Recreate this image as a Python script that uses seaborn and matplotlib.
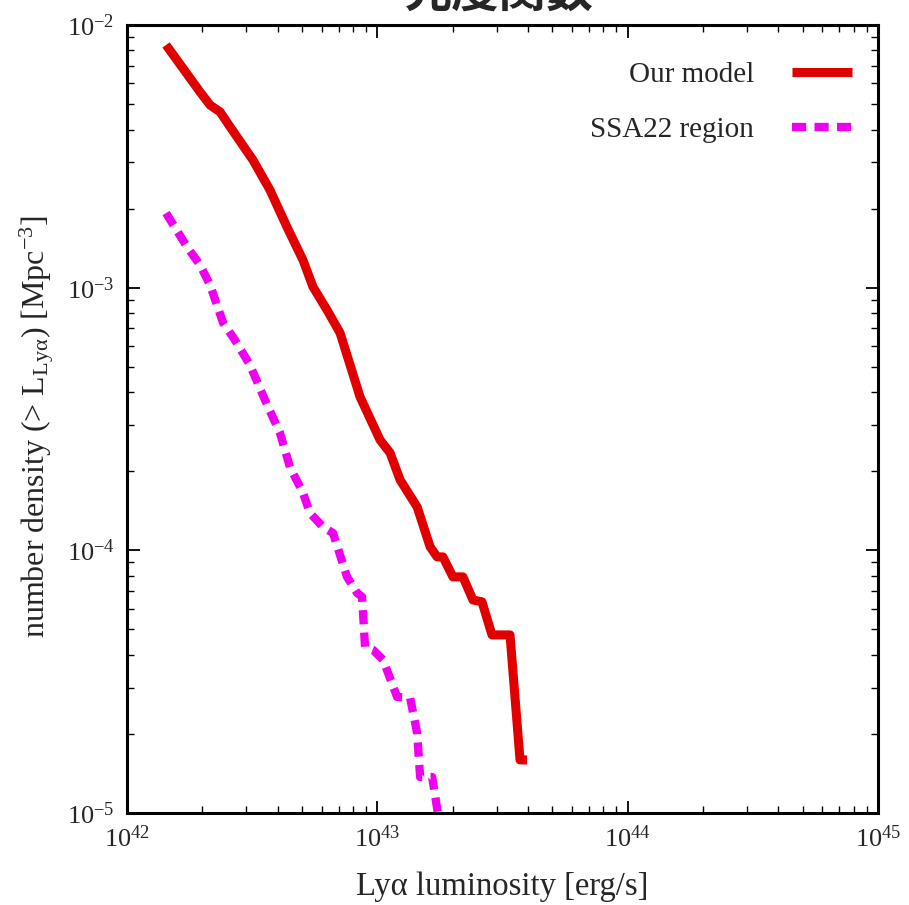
import numpy as np
import pandas as pd
import matplotlib
matplotlib.use("Agg")
import matplotlib.pyplot as plt
import seaborn as sns
from matplotlib.ticker import LogLocator, LogFormatterMathtext, NullFormatter

# Cumulative Lya luminosity function (log10 L [erg/s], log10 n(>L) [Mpc^-3])
model_logL = [42.156, 42.292, 42.332, 42.372, 42.412, 42.503, 42.571, 42.639,
              42.703, 42.743, 42.799, 42.851, 42.931, 43.011, 43.051, 43.091,
              43.159, 43.211, 43.239, 43.262, 43.302, 43.342, 43.382, 43.418,
              43.458, 43.530, 43.570, 43.598]
model_logn = [-2.076, -2.255, -2.305, -2.331, -2.388, -2.514, -2.628, -2.769,
              -2.895, -2.997, -3.085, -3.172, -3.416, -3.580, -3.629, -3.732,
              -3.835, -3.987, -4.025, -4.025, -4.101, -4.101, -4.189, -4.196,
              -4.322, -4.322, -4.798, -4.798]

ssa22_logL = [42.156, 42.240, 42.292, 42.332, 42.384, 42.431, 42.491, 42.551,
              42.611, 42.651, 42.703, 42.731, 42.783, 42.823, 42.879, 42.919,
              42.939, 42.951, 42.983, 43.023, 43.079, 43.131, 43.159, 43.171,
              43.219, 43.250]
ssa22_logn = [-2.716, -2.845, -2.914, -2.990, -3.134, -3.199, -3.294, -3.427,
              -3.553, -3.683, -3.781, -3.858, -3.911, -3.934, -4.101, -4.162,
              -4.177, -4.368, -4.379, -4.417, -4.558, -4.562, -4.695, -4.863,
              -4.863, -5.050]

series_names = ["Our model", "SSA22 region"]
series_colors = ["#e00000", "#f000f0"]

model_df = pd.DataFrame({"L": 10.0 ** np.array(model_logL),
                         "n": 10.0 ** np.array(model_logn)})
ssa22_df = pd.DataFrame({"L": 10.0 ** np.array(ssa22_logL),
                         "n": 10.0 ** np.array(ssa22_logn)})

sns.set_style("white")
plt.rcParams["font.family"] = ["Liberation Serif", "DejaVu Serif"]
plt.rcParams["mathtext.fontset"] = "custom"
plt.rcParams["mathtext.rm"] = "Liberation Serif"
plt.rcParams["mathtext.it"] = "Liberation Serif:italic"
plt.rcParams["mathtext.default"] = "regular"
plt.rcParams["axes.unicode_minus"] = False

fig = plt.figure(figsize=(9.09, 9.05), dpi=100)
ax = fig.add_axes([127 / 909, 1 - 813 / 905, (878 - 127) / 909, (813 - 25) / 905])

sns.lineplot(data=model_df, x="L", y="n", ax=ax, sort=False, estimator=None,
             color=series_colors[0], linewidth=6.5, label=series_names[0],
             solid_joinstyle="round", solid_capstyle="butt")
sns.lineplot(data=ssa22_df, x="L", y="n", ax=ax, sort=False, estimator=None,
             color=series_colors[1], linewidth=6.0, label=series_names[1])
ax.lines[1].set_dashes([1.7, 1.0])

ax.set_xscale("log")
ax.set_yscale("log")
ax.set_xlim(1e42, 1e45)
ax.set_ylim(1e-5, 1e-2)

for axis in (ax.xaxis, ax.yaxis):
    axis.set_major_locator(LogLocator(base=10, numticks=10))
    axis.set_minor_locator(LogLocator(base=10, subs=np.arange(2, 10), numticks=20))
    axis.set_major_formatter(LogFormatterMathtext())
    axis.set_minor_formatter(NullFormatter())

ax.tick_params(which="both", direction="in", top=True, right=True,
               bottom=True, left=True, color="black")
ax.tick_params(which="major", length=9, width=1.3, labelsize=19, pad=9)
ax.tick_params(which="minor", length=5, width=1.0)
for s in ax.spines.values():
    s.set_linewidth(2.2)
    s.set_color("black")

ax.set_xlabel("Lyα luminosity [erg/s]", fontsize=23.5, labelpad=14)
ax.set_ylabel(r"number density (> L$_{\mathrm{Lyα}}$) [Mpc$^{-3}$]",
              fontsize=23)
ax.yaxis.set_label_coords(-0.094, 0.49)

leg = ax.legend(loc="upper right", frameon=False, markerfirst=False,
                fontsize=21, handlelength=2.07, handletextpad=1.28,
                labelspacing=0.97, borderaxespad=0.0,
                bbox_to_anchor=(0.981, 0.968))

fig.text(0.549, 1 - 7 / 905, "光度関数", ha="center", va="baseline",
         fontsize=34, fontweight="bold",
         family=["Noto Sans CJK JP", "DejaVu Sans"])

fig.savefig("out.png", dpi=100)
